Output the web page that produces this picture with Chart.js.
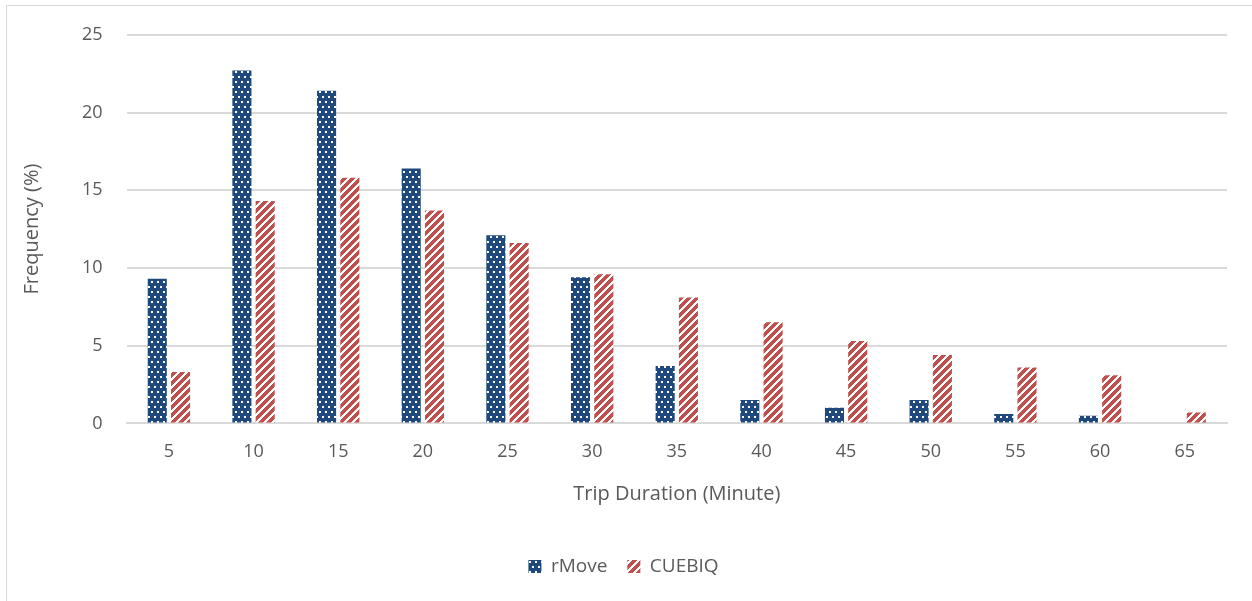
<!DOCTYPE html>
<html>
<head>
<meta charset="utf-8">
<script src="https://cdn.jsdelivr.net/npm/chart.js@4/dist/chart.umd.min.js"></script>
<style>
  html, body { margin: 0; padding: 0; background: #fff; }
  #wrap { position: relative; width: 1252px; height: 601px; }
  #frame { position: absolute; left: 6px; top: 5px; width: 1300px; height: 700px;
           border-left: 1px solid #d9d9d9; border-top: 1px solid #d9d9d9; pointer-events: none; }
  canvas { position: absolute; left: 0; top: 0; }
</style>
</head>
<body>
<div id="wrap">
  <canvas id="chart" width="1252" height="601"></canvas>
  <div id="frame"></div>
</div>
<script>
// Trip duration bins (minutes) and share of trips per bin (%)
const durations = ['5', '10', '15', '20', '25', '30', '35', '40', '45', '50', '55', '60', '65'];
const rMove  = [9.3, 22.7, 21.4, 16.4, 12.1, 9.4, 3.7, 1.5, 1.0, 1.5, 0.6, 0.5, 0];
const cuebiq = [3.3, 14.3, 15.8, 13.7, 11.6, 9.6, 8.1, 6.5, 5.3, 4.4, 3.6, 3.1, 0.7];
const yTicks = [0, 5, 10, 15, 20, 25];

const BLUE = '#1f497d';
const RED = '#c0504d';
const TEXT = '#595959';
const GRID = '#d9d9d9';

// Dotted fill: small white squares on dark blue
function dotPattern() {
  const c = document.createElement('canvas');
  c.width = 6; c.height = 10;
  const g = c.getContext('2d');
  g.fillStyle = BLUE; g.fillRect(0, 0, 6, 10);
  g.fillStyle = '#ffffff';
  g.fillRect(1, 1, 2, 2);
  g.fillRect(4, 6, 2, 2);
  return g.createPattern(c, 'repeat');
}

// Diagonal stripe fill: red and white bands rising to the right
function stripePattern() {
  const c = document.createElement('canvas');
  c.width = 8; c.height = 8;
  const g = c.getContext('2d');
  g.fillStyle = '#ffffff'; g.fillRect(0, 0, 8, 8);
  g.fillStyle = RED;
  for (let y = 0; y < 8; y++) {
    for (let x = 0; x < 8; x++) {
      if (((x + y) % 8) < 5) g.fillRect(x, y, 1, 1);
    }
  }
  return g.createPattern(c, 'repeat');
}

const font = "'Open Sans', 'Noto Sans', sans-serif";

new Chart(document.getElementById('chart'), {
  type: 'bar',
  data: {
    labels: durations,
    datasets: [
      { label: 'rMove', data: rMove, backgroundColor: dotPattern(), borderWidth: 0,
        categoryPercentage: 0.55, barPercentage: 0.82 },
      { label: 'CUEBIQ', data: cuebiq, backgroundColor: stripePattern(), borderWidth: 0,
        categoryPercentage: 0.55, barPercentage: 0.82 }
    ]
  },
  options: {
    responsive: false,
    animation: false,
    devicePixelRatio: 1,
    layout: { padding: { left: 20, right: 25, top: 24, bottom: 15 } },
    plugins: {
      tooltip: { enabled: false },
      legend: {
        position: 'bottom',
        labels: {
          color: TEXT,
          font: { family: font, size: 19 },
          boxWidth: 13, boxHeight: 13,
          padding: 20
        }
      }
    },
    scales: {
      x: {
        grid: { display: false },
        border: { display: true, color: GRID, width: 2 },
        ticks: { color: TEXT, font: { family: font, size: 18 }, padding: 10 },
        title: {
          display: true, text: 'Trip Duration (Minute)', color: TEXT,
          font: { family: font, size: 20 }, padding: { top: 9, bottom: 31 }
        }
      },
      y: {
        min: 0, max: 25,
        afterBuildTicks: (axis) => { axis.ticks = yTicks.map(v => ({ value: v })); },
        grid: { color: GRID, lineWidth: 2, drawTicks: false },
        border: { display: false },
        ticks: { color: TEXT, font: { family: font, size: 18 }, padding: 24 },
        title: {
          display: true, text: 'Frequency (%)', color: TEXT,
          font: { family: font, size: 20 }, padding: { top: 0, bottom: 14 }
        }
      }
    }
  }
});
</script>
</body>
</html>
